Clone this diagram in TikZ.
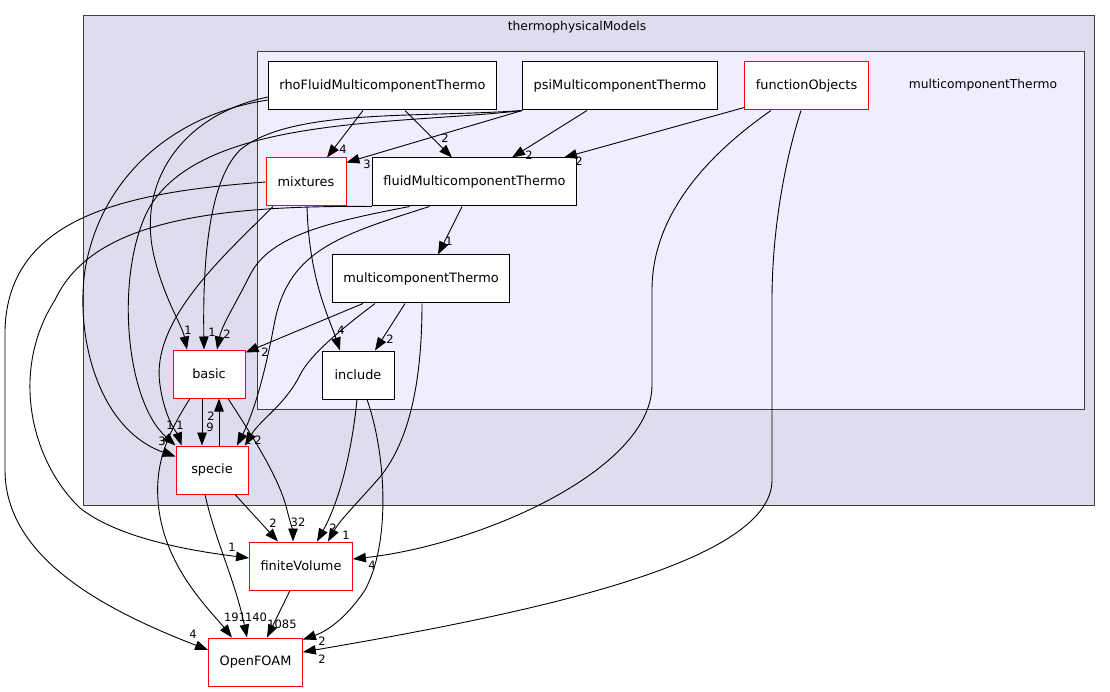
\documentclass[tikz,border=0pt]{standalone}
\usepackage{fontspec}
\setmainfont{DejaVu Sans}
\usetikzlibrary{arrows.meta}
\definecolor{dirouter}{HTML}{DDDDEE}
\definecolor{dirinner}{HTML}{EEEEFF}
\definecolor{dirframe}{HTML}{404040}
\definecolor{dirred}{HTML}{FF0000}

\begin{document}
\begin{tikzpicture}[x=1pt, y=-1pt,
    dirbox/.style={draw=black, fill=white, line width=1pt, minimum width=72pt, minimum height=48pt,
        inner xsep=11pt, inner ysep=0pt, font=\fontsize{12.9}{15}\selectfont},
    subdirbox/.style={dirbox, draw=dirred},
    cluster/.style={draw=dirframe, line width=1pt},
    clusterlbl/.style={font=\fontsize{12.3}{14}\selectfont},
    dep/.style={-{Triangle[length=13pt, width=9.5pt]}, line width=0.9pt},
    lbl/.style={font=\fontsize{11.5}{13}\selectfont, inner sep=0pt}]
    \useasboundingbox (0,0) rectangle (1110,692);

    % directory clusters
    \draw[cluster, fill=dirouter] (83,16) rectangle (1094,505);
    \node[clusterlbl] (thermolbl) at (577,27) {thermophysicalModels};
    \draw[cluster, fill=dirinner] (257,52) rectangle (1084,409);
    \node[clusterlbl] (mctlbl) at (983,85) {multicomponentThermo};

    % directories
    \node[dirbox] (rho) at (382.5,86) {rhoFluidMulticomponentThermo};
    \node[dirbox] (psi) at (620,86) {psiMulticomponentThermo};
    \node[subdirbox] (fobj) at (806.5,86) {functionObjects};
    \node[subdirbox, minimum width=80pt] (mix) at (306,182) {mixtures};
    \node[dirbox] (fluid) at (474.5,182) {fluidMulticomponentThermo};
    \node[dirbox] (mct) at (421,279) {multicomponentThermo};
    \node[dirbox] (incl) at (358,375) {include};
    \node[subdirbox] (basic) at (209,374) {basic};
    \node[subdirbox] (specie) at (212,470) {specie};
    \node[subdirbox] (fv) at (301,566) {finiteVolume};
    \node[subdirbox] (of) at (255.5,662) {OpenFOAM};

    % rhoFluidMulticomponentThermo
    \draw[dep] ([xshift=-19.5pt]rho.south) -- ([xshift=21pt]mix.north);
    \node[lbl] (rhomixl) at (343,149) {4};
    \draw[dep] ([xshift=22.5pt]rho.south) -- ([xshift=-22.5pt]fluid.north);
    \node[lbl] (rhofluidl) at (445,138) {2};
    \draw[dep] ([yshift=-11pt]rho.west) .. controls (180,115) and (135,185) .. (155,260)
        .. controls (165,300) and (182,325) .. ([xshift=-22pt]basic.north);
    \node[lbl] (rhobasicl) at (188,330) {1};
    \draw[dep] ([yshift=-14pt]rho.west) .. controls (170,115) and (100,180) .. (85,270)
        .. controls (75,340) and (100,430) .. ([yshift=-11pt]specie.north west);
    \node[lbl] (rhospeciel) at (162,441) {3};

    % psiMulticomponentThermo
    \draw[dep] (psi.south west) -- ([yshift=-5pt]mix.north east);
    \node[lbl] (psimixl) at (367,164) {3};
    \draw[dep] ([xshift=-33pt]psi.south) -- ([xshift=37.5pt]fluid.north);
    \node[lbl] (psifluidl) at (529,155) {2};
    \draw[dep] (psi.south west) .. controls (420,118) and (290,108) .. (240,150)
        .. controls (205,185) and (203,280) .. ([xshift=-5pt]basic.north);
    \node[lbl] (psibasicl) at (212,332) {1};
    \draw[dep] (psi.south west) .. controls (400,125) and (200,115) .. (148,210)
        .. controls (115,275) and (125,400) .. (specie.north west);
    \node[lbl] (psispeciel) at (170,425) {1};

    % functionObjects
    \draw[dep] ([yshift=3pt]fobj.south west) -- ([xshift=89.5pt]fluid.north);
    \node[lbl] (fobjfluidl) at (579,161) {2};
    \draw[dep] ([xshift=-35.5pt]fobj.south) .. controls (700,160) and (652,220) .. (652,290)
        -- (652,385) .. controls (652,470) and (480,545) .. ([yshift=7pt]fv.east);
    \node[lbl] (fobjfvl) at (372,565) {4};
    \draw[dep] ([xshift=-5.5pt]fobj.south) .. controls (785,160) and (772,230) .. (772,300)
        -- (772,480) .. controls (772,560) and (550,610) .. ([yshift=10pt]of.east);
    \node[lbl] (fobjofl) at (322,659) {2};

    % mixtures
    \draw[dep] ([xshift=1pt]mix.south) .. controls (309,280) and (330,320) .. ([xshift=-18pt]incl.north);
    \node[lbl] (mixincll) at (341,330) {4};
    \draw[dep] ([xshift=-33pt]mix.south) .. controls (225,255) and (150,320) .. (160,385)
        .. controls (165,420) and (178,435) .. ([xshift=6pt]specie.north west);
    \node[lbl] (mixspeciel) at (180,425) {1};
    \draw[dep] (mix.west) .. controls (130,192) and (8,215) .. (5,330)
        -- (5,470) .. controls (5,560) and (110,612) .. ([yshift=12pt]of.west);
    \node[lbl] (mixofl) at (193,634) {4};

    % fluidMulticomponentThermo
    \draw[dep] ([xshift=-12.5pt]fluid.south) -- ([xshift=17pt]mct.north);
    \node[lbl] (fluidmctl) at (449,241) {1};
    \draw[dep] (fluid.south west) .. controls (200,205) and (90,225) .. (55,300)
        .. controls (10,370) and (30,460) .. (80,508) .. controls (120,540) and (200,552) .. ([yshift=8pt]fv.west);
    \node[lbl] (fluidfvl) at (232,547) {1};
    \draw[dep] ([xshift=-65pt]fluid.south) .. controls (330,222) and (270,235) .. (250,275)
        .. controls (235,305) and (222,325) .. ([xshift=8pt]basic.north);
    \node[lbl] (fluidbasicl) at (227,334) {2};
    \draw[dep] ([xshift=-45pt]fluid.south) .. controls (340,235) and (290,250) .. (275,320)
        .. controls (262,390) and (250,420) .. ([xshift=25pt]specie.north);
    \node[lbl] (fluidspeciel) at (248,440) {1};

    % multicomponentThermo
    \draw[dep] ([xshift=-58pt]mct.south) -- ([yshift=-3pt]basic.north east);
    \node[lbl] (mctbasicl) at (265,352) {2};
    \draw[dep] ([xshift=-46pt]mct.south) .. controls (340,330) and (310,355) .. (300,375)
        .. controls (285,405) and (260,420) .. ([xshift=33pt]specie.north);
    \node[lbl] (mctspeciel) at (258,440) {2};
    \draw[dep] ([xshift=-16pt]mct.south) -- ([xshift=17pt]incl.north);
    \node[lbl] (mctincll) at (390,339) {2};
    \draw[dep] ([xshift=1pt]mct.south) .. controls (422,380) and (410,440) .. (380,477)
        .. controls (360,500) and (340,520) .. ([xshift=27pt]fv.north);
    \node[lbl] (mctfvl) at (346,535) {1};

    % include
    \draw[dep] ([xshift=-1pt]incl.south) .. controls (352,450) and (340,500) .. ([xshift=16pt]fv.north);
    \node[lbl] (inclfvl) at (333,528) {2};
    \draw[dep] ([xshift=9pt]incl.south) .. controls (385,450) and (392,540) .. (365,590)
        .. controls (345,620) and (325,632) .. ([yshift=-2pt]of.north east);
    \node[lbl] (inclofl) at (322,641) {2};

    % basic and specie
    \draw[dep] ([xshift=-7pt]basic.south) -- ([xshift=-10pt]specie.north);
    \node[lbl] (basicspeciel) at (210,427) {9};
    \draw[dep] ([xshift=7pt]specie.north) -- ([xshift=10pt]basic.south);
    \node[lbl] (speciebasicl) at (211,416) {2};
    \draw[dep] ([xshift=19pt]basic.south) .. controls (255,440) and (280,480) .. (287,510)
        .. controls (291,525) and (293,532) .. ([xshift=-8pt]fv.north);
    \node[lbl] (basicfvl) at (298,522) {32};
    \draw[dep] ([xshift=-19pt]basic.south) .. controls (170,430) and (155,460) .. (158,500)
        .. controls (162,565) and (210,610) .. ([xshift=-23.5pt]of.north);
    \node[lbl] (basicofl) at (235,617) {191};
    \draw[dep] ([xshift=23pt]specie.south) -- ([xshift=-23pt]fv.north);
    \node[lbl] (speciefvl) at (273,523) {2};
    \draw[dep] ([xshift=-7pt]specie.south) .. controls (215,540) and (235,580) .. ([xshift=-8.5pt]of.north);
    \node[lbl] (specieofl) at (256,617) {140};

    % finiteVolume
    \draw[dep] ([xshift=-11pt]fv.south) -- ([xshift=11.5pt]of.north);
    \node[lbl] (fvofl) at (282,624) {1085};
\end{tikzpicture}
\end{document}
